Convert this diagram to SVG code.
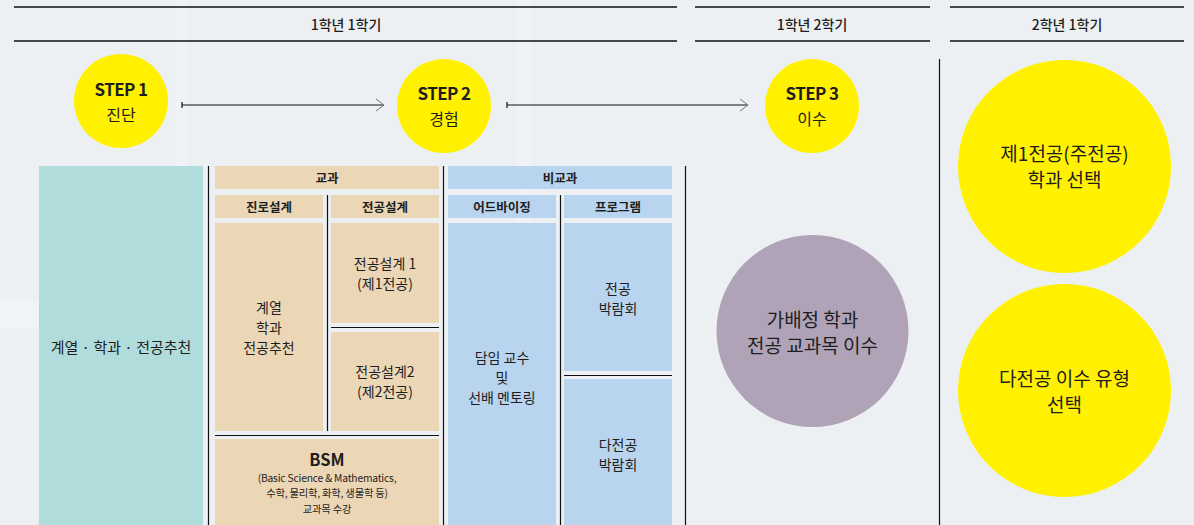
<svg xmlns="http://www.w3.org/2000/svg" width="1194" height="525" viewBox="0 0 1194 525">
<defs>
<style>
text{font-family:"Noto Sans CJK KR","Noto Sans",sans-serif;fill:#1e1e1e;text-anchor:middle;dominant-baseline:central}
.hd{font-size:14px;font-weight:500}
.st{font-size:17px;font-weight:bold;letter-spacing:-0.6px}
.sk{font-size:16px}
.bh{font-size:12.5px;font-weight:bold}
.bt{font-size:14px}
.big{font-size:19px}
.sm{font-size:10.3px;letter-spacing:-0.2px}
.rule{stroke:#111;stroke-width:1.4;fill:none}
.thin{stroke:#111;stroke-width:1.2}
.beige{fill:#ebd7b6}
.blue{fill:#b8d4ee}
.yel{fill:#fff100}
.conn{stroke:#111;stroke-width:1.1;fill:none}
</style>
<marker id="head" markerWidth="12" markerHeight="14" refX="10" refY="7" orient="auto" markerUnits="userSpaceOnUse">
<path d="M2,1 L10,7 L2,13" fill="none" stroke="#777" stroke-width="1"/>
</marker>
<marker id="tick" markerWidth="4" markerHeight="8" refX="1" refY="4" orient="auto" markerUnits="userSpaceOnUse">
<line x1="1" y1="1" x2="1" y2="7" stroke="#111" stroke-width="1.2"/>
</marker>
</defs>

<g id="background">
<rect x="0" y="0" width="1194" height="525" fill="#edf0f3"/>
<rect x="0" y="300" width="140" height="28" fill="#ffffff" opacity="0.25"/>
<rect x="175" y="0" width="14" height="525" fill="#ffffff" opacity="0.2"/>
<rect x="515" y="0" width="16" height="525" fill="#ffffff" opacity="0.18"/>
</g>

<g id="headers">
<line class="rule" x1="14" y1="7" x2="677" y2="7"/>
<line class="rule" x1="14" y1="41" x2="677" y2="41"/>
<text class="hd" x="346" y="24">1학년 1학기</text>
<line class="rule" x1="695" y1="7" x2="930" y2="7"/>
<line class="rule" x1="695" y1="41" x2="930" y2="41"/>
<text class="hd" x="812" y="24">1학년 2학기</text>
<line class="rule" x1="950" y1="7" x2="1184" y2="7"/>
<line class="rule" x1="950" y1="41" x2="1184" y2="41"/>
<text class="hd" x="1067" y="24">2학년 1학기</text>
</g>

<g id="step1">
<circle class="yel" cx="121" cy="101" r="47"/>
<text class="st" x="121" y="88.5">STEP 1</text>
<text class="sk" x="121" y="113.5">진단</text>
</g>
<g id="step2">
<circle class="yel" cx="444" cy="106" r="47"/>
<text class="st" x="444" y="92.5">STEP 2</text>
<text class="sk" x="444" y="118">경험</text>
</g>
<g id="step3">
<circle class="yel" cx="812" cy="106" r="47"/>
<text class="st" x="812" y="92.5">STEP 3</text>
<text class="sk" x="812" y="118">이수</text>
</g>

<g id="connectors">
<line class="conn" x1="182" y1="105" x2="384" y2="105" marker-start="url(#tick)" marker-end="url(#head)"/>
<line class="conn" x1="507" y1="105" x2="748" y2="105" marker-start="url(#tick)" marker-end="url(#head)"/>
</g>

<g id="dividers">
<line class="thin" x1="208.5" y1="166" x2="208.5" y2="525"/>
<line class="thin" x1="443.5" y1="166" x2="443.5" y2="525"/>
<line class="thin" x1="685.5" y1="166" x2="685.5" y2="525"/>
<line class="thin" x1="939.5" y1="59" x2="939.5" y2="525"/>
</g>

<g id="recommend">
<rect x="39" y="166" width="164" height="359" fill="#b1dcdc"/>
<text class="bt" x="121" y="346" style="font-size:15px">계열 · 학과 ·  전공추천</text>
</g>

<g id="gyogwa">
<rect class="beige" x="215" y="166" width="224" height="23"/>
<text class="bh" x="327" y="177">교과</text>
<rect class="beige" x="215" y="195" width="108" height="23"/>
<text class="bh" x="269" y="206.5">진로설계</text>
<rect class="beige" x="331" y="195" width="108" height="23"/>
<text class="bh" x="385" y="206.5">전공설계</text>
<line class="thin" x1="327.5" y1="195" x2="327.5" y2="431"/>
</g>

<g id="jinro">
<rect class="beige" x="215" y="223" width="108" height="208"/>
<text class="bt" x="269" y="306.5">계열</text>
<text class="bt" x="269" y="326.5">학과</text>
<text class="bt" x="269" y="346.5">전공추천</text>
</g>

<g id="major1">
<rect class="beige" x="331" y="223" width="108" height="100"/>
<text class="bt" x="385" y="263">전공설계 1</text>
<text class="bt" x="385" y="283">(제1전공)</text>
</g>
<line class="thin" x1="331" y1="327.5" x2="439" y2="327.5"/>
<g id="major2">
<rect class="beige" x="331" y="332" width="108" height="99"/>
<text class="bt" x="385" y="371">전공설계2</text>
<text class="bt" x="385" y="391">(제2전공)</text>
</g>
<line class="thin" x1="215" y1="435.5" x2="439" y2="435.5"/>

<g id="bsm">
<rect class="beige" x="215" y="439" width="224" height="86"/>
<text x="327" y="459" style="font-size:16.5px;font-weight:bold">BSM</text>
<text class="sm" x="327" y="477">(Basic Science &amp;  Mathematics,</text>
<text class="sm" x="327" y="492.5">수학, 물리학, 화학, 생물학 등)</text>
<text class="sm" x="327" y="508">교과목 수강</text>
</g>

<g id="bigyogwa">
<rect class="blue" x="448" y="166" width="224" height="23"/>
<text class="bh" x="560" y="177">비교과</text>
<rect class="blue" x="448" y="195" width="108" height="23"/>
<text class="bh" x="502" y="206.5">어드바이징</text>
<rect class="blue" x="564" y="195" width="108" height="23"/>
<text class="bh" x="618" y="206.5">프로그램</text>
<line class="thin" x1="560.5" y1="195" x2="560.5" y2="525"/>
</g>

<g id="advising">
<rect class="blue" x="448" y="223" width="108" height="302"/>
<text class="bt" x="502" y="356.5">담임 교수</text>
<text class="bt" x="502" y="377">및</text>
<text class="bt" x="502" y="397">선배 멘토링</text>
</g>

<g id="expo1">
<rect class="blue" x="564" y="223" width="108" height="148"/>
<text class="bt" x="618" y="287.5">전공</text>
<text class="bt" x="618" y="308">박람회</text>
</g>
<line class="thin" x1="564" y1="375.5" x2="672" y2="375.5"/>
<g id="expo2">
<rect class="blue" x="564" y="379" width="108" height="146"/>
<text class="bt" x="618" y="444">다전공</text>
<text class="bt" x="618" y="464">박람회</text>
</g>

<g id="provisional">
<circle cx="812.5" cy="331" r="96" fill="#b0a2b7"/>
<text class="big" x="812.5" y="318">가배정 학과</text>
<text class="big" x="812.5" y="344">전공 교과목 이수</text>
</g>

<g id="first-major">
<circle class="yel" cx="1064.5" cy="166.5" r="106.5"/>
<text class="big" x="1064.5" y="152">제1전공(주전공)</text>
<text class="big" x="1064.5" y="178">학과 선택</text>
</g>

<g id="multi-major">
<circle class="yel" cx="1064.5" cy="390.5" r="106.5"/>
<text class="big" x="1064.5" y="377">다전공 이수 유형</text>
<text class="big" x="1064.5" y="403">선택</text>
</g>
</svg>
